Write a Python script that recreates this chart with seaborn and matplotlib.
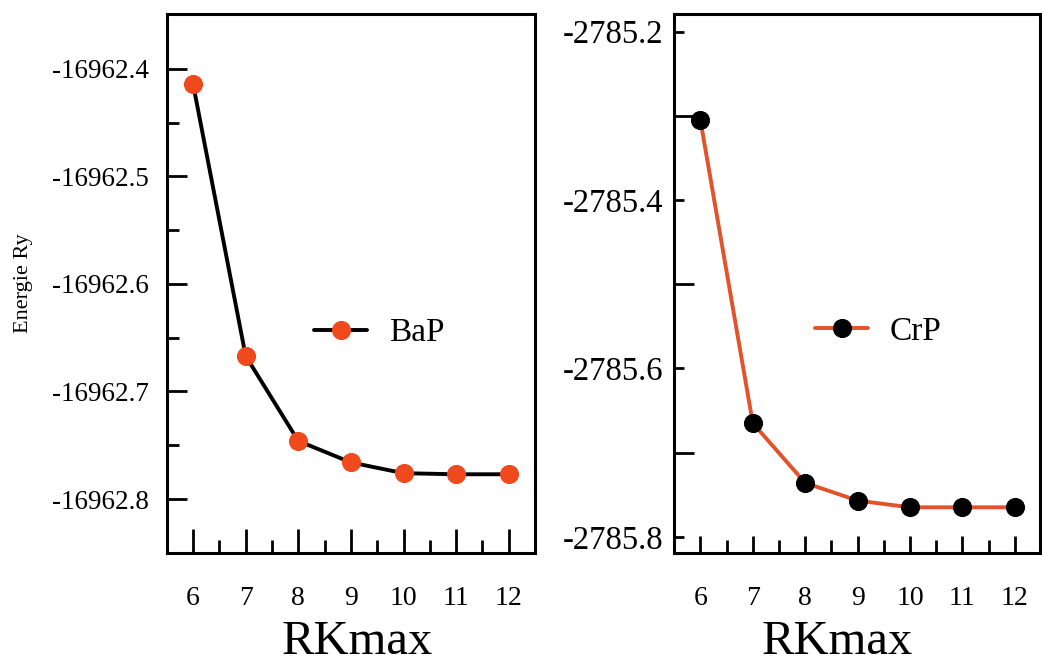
import numpy as np
import pandas as pd
import seaborn as sns
import matplotlib
matplotlib.use("Agg")
import matplotlib.pyplot as plt
from matplotlib.ticker import MultipleLocator, FixedLocator, FormatStrFormatter

# ---- data ----
rkmax = [6, 7, 8, 9, 10, 11, 12]
bap_energy = [-16962.414, -16962.667, -16962.746, -16962.766, -16962.776, -16962.777, -16962.777]
crp_energy = [-2785.305, -2785.665, -2785.736, -2785.757, -2785.765, -2785.765, -2785.765]
bap_label = "BaP"
crp_label = "CrP"
xlabel = "RKmax"
ylabel = "Energie Ry"

sns.set_theme(style="white")
plt.rcParams['font.family'] = ['Liberation Serif', 'DejaVu Serif']
plt.rcParams['text.color'] = 'black'
plt.rcParams['axes.labelcolor'] = 'black'
plt.rcParams['xtick.color'] = 'black'
plt.rcParams['ytick.color'] = 'black'

fig = plt.figure(figsize=(10.42, 6.66), dpi=100)
ax1 = fig.add_axes([0.160, 0.170, 0.3535, 0.809])
ax2 = fig.add_axes([0.647, 0.170, 0.351, 0.809])

df1 = pd.DataFrame({"x": rkmax, "y": bap_energy})
df2 = pd.DataFrame({"x": rkmax, "y": crp_energy})

sns.lineplot(data=df1, x="x", y="y", ax=ax1, color="black", linewidth=2.8,
             marker="o", markersize=13, markerfacecolor="#EE4A1E",
             markeredgecolor="#EE4A1E", label=bap_label)
sns.lineplot(data=df2, x="x", y="y", ax=ax2, color="#E2532B", linewidth=2.8,
             marker="o", markersize=13, markerfacecolor="black",
             markeredgecolor="black", label=crp_label)

# axis limits
ax1.set_xlim(5.5, 12.5)
ax1.set_ylim(-16962.85, -16962.349)
ax2.set_xlim(5.5, 12.48)
ax2.set_ylim(-2785.819, -2785.179)

for ax in (ax1, ax2):
    ax.xaxis.set_major_locator(MultipleLocator(1))
    ax.xaxis.set_minor_locator(FixedLocator([6.5, 7.5, 8.5, 9.5, 10.5, 11.5]))
    for s in ax.spines.values():
        s.set_linewidth(2.2)
        s.set_color("black")
    ax.set_facecolor("white")

ax1.yaxis.set_major_locator(MultipleLocator(0.1))
ax1.yaxis.set_minor_locator(FixedLocator([-16962.45, -16962.55, -16962.65, -16962.75]))
ax1.yaxis.set_major_formatter(FormatStrFormatter("%.1f"))
ax2.yaxis.set_major_locator(MultipleLocator(0.2))
ax2.yaxis.set_minor_locator(FixedLocator([-2785.3, -2785.5, -2785.7]))
ax2.yaxis.set_major_formatter(FormatStrFormatter("%.1f"))

# ticks
ax1.tick_params(axis="x", which="major", direction="in", length=17, width=2,
                labelsize=20, pad=24, bottom=True)
ax1.tick_params(axis="x", which="minor", direction="in", length=9.4, width=2, bottom=True)
ax1.tick_params(axis="y", which="major", direction="in", length=14.4, width=2,
                labelsize=19.5, pad=13, left=True)
ax1.tick_params(axis="y", which="minor", direction="in", length=8.6, width=2, left=True)

ax2.tick_params(axis="x", which="major", direction="in", length=12.2, width=2,
                labelsize=20, pad=24, bottom=True)
ax2.tick_params(axis="x", which="minor", direction="in", length=9.4, width=2, bottom=True)
ax2.tick_params(axis="y", which="major", direction="in", length=7.2, width=2,
                labelsize=23.5, pad=8, left=True)
ax2.tick_params(axis="y", which="minor", direction="in", length=14.4, width=2, left=True)

for ax in (ax1, ax2):
    ax.set_xticks(rkmax)
    ax.set_xticklabels([str(v) for v in rkmax])

# labels
ax1.set_xlabel(xlabel, fontsize=35)
ax1.xaxis.set_label_coords(0.517, -0.166)
ax1.xaxis.label.set_va("center")
ax2.set_xlabel(xlabel, fontsize=35)
ax2.xaxis.set_label_coords(0.445, -0.166)
ax2.xaxis.label.set_va("center")
ax1.set_ylabel(ylabel, fontsize=16)
ax1.yaxis.set_label_coords(-0.39, 0.5)
ax1.yaxis.label.set_va("center")
ax2.set_ylabel("")

# legends
for ax, yy, xx in ((ax1, 0.408, 0.40), (ax2, 0.41, 0.385)):
    ax.legend(loc="center left", bbox_to_anchor=(xx, yy), frameon=False,
              fontsize=24, handlelength=1.6, handletextpad=0.65, borderpad=0,
              borderaxespad=0)

fig.savefig("out.png", dpi=100, facecolor="white")
